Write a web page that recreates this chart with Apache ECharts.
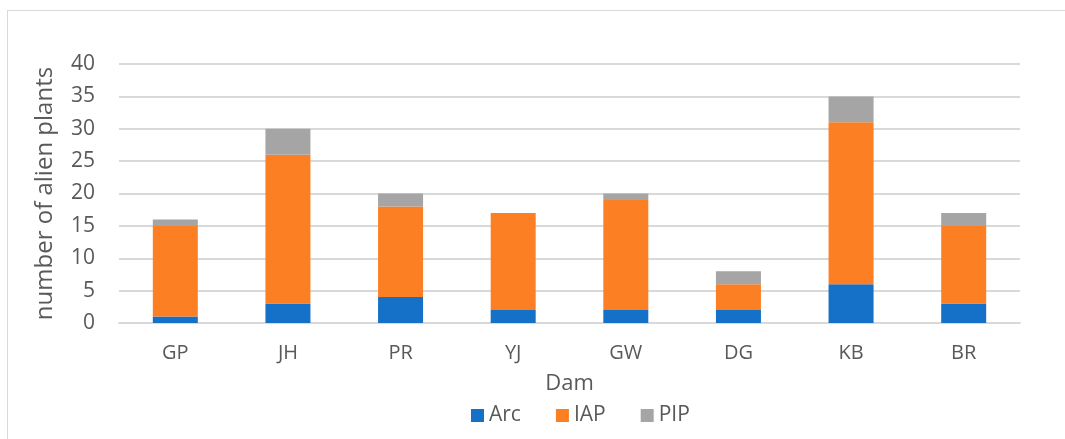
<!DOCTYPE html>
<html>
<head>
<meta charset="utf-8">
<script src="https://cdn.jsdelivr.net/npm/echarts@6/dist/echarts.min.js"></script>
<style>
html,body{margin:0;padding:0;background:#fff;}
#frame{position:absolute;left:7px;top:10px;width:1100px;height:480px;border:1px solid #d9d9d9;}
#chart{position:absolute;left:0;top:0;width:1065px;height:439px;}
</style>
</head>
<body>
<div id="frame"></div>
<div id="chart"></div>
<script>
var dams = ['GP','JH','PR','YJ','GW','DG','KB','BR'];
var arc = [1, 3, 4, 2, 2, 2, 6, 3];
var iap = [14, 23, 14, 15, 17, 4, 25, 12];
var pip = [1, 4, 2, 0, 1, 2, 4, 2];

var myChart = echarts.init(document.getElementById('chart'));
var fontFam = '"Open Sans", "Liberation Sans", sans-serif';

var option = {
    animation: false,
    textStyle: {fontFamily: fontFam},
    grid: {left: 119, right: 45, top: 64, bottom: 116},
    legend: {
        top: 400,
        left: 466,
        itemWidth: 13,
        itemHeight: 13,
        itemGap: 35,
        itemTextGap: 6,
        icon: 'rect',
        textStyle: {fontSize: 21, color: '#595959', fontFamily: fontFam},
        data: ['Arc','IAP','PIP']
    },
    xAxis: {
        type: 'category',
        data: dams,
        name: 'Dam',
        nameLocation: 'middle',
        nameGap: 50,
        nameTextStyle: {fontSize: 22, color: '#595959'},
        axisLine: {lineStyle: {color: '#d9d9d9', width: 2}},
        axisTick: {show: false},
        axisLabel: {fontSize: 20, color: '#595959', margin: 20}
    },
    yAxis: {
        type: 'value',
        min: 0,
        max: 40,
        interval: 5,
        name: 'number of alien plants',
        nameLocation: 'middle',
        nameGap: 62,
        nameTextStyle: {fontSize: 24, color: '#595959'},
        axisLine: {show: false},
        axisTick: {show: false},
        axisLabel: {fontSize: 21, color: '#595959', margin: 24},
        splitLine: {lineStyle: {color: '#d9d9d9', width: 2}}
    },
    series: [
        {name: 'Arc', type: 'bar', stack: 'total', barWidth: 45, itemStyle: {color: '#1570c8'}, data: arc},
        {name: 'IAP', type: 'bar', stack: 'total', itemStyle: {color: '#fd7f23'}, data: iap},
        {name: 'PIP', type: 'bar', stack: 'total', itemStyle: {color: '#a5a5a5'}, data: pip}
    ]
};
myChart.setOption(option);
</script>
</body>
</html>
